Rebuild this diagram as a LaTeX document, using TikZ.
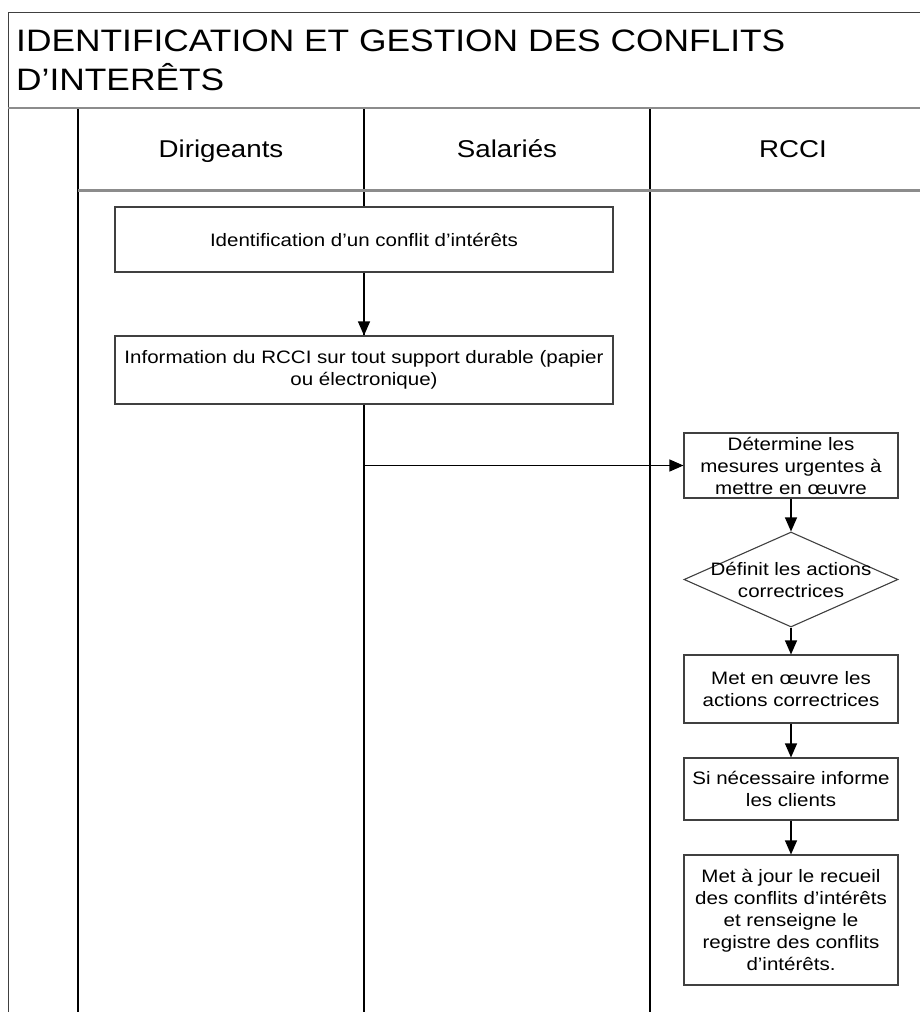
\documentclass[tikz,border=0pt]{standalone}
\usepackage{fontspec}
\setmainfont{Liberation Sans}[FakeStretch=1.14]
\usetikzlibrary{arrows.meta,shapes.geometric}
\newcommand\boxfont{\fontsize{18}{22}\selectfont}
\begin{document}
\begin{tikzpicture}[x=1pt,y=-1pt,
  lane/.style={line width=1.4pt, black},
  band/.style={line width=2.5pt, black!45},
  frame/.style={line width=1pt, black!75},
  box/.style={draw=black!75, line width=1.1pt, fill=white, align=center, inner sep=0pt, font=\boxfont},
  arr/.style={line width=1.1pt, -{Triangle[length=14pt,width=12pt]}},
  head/.style={font=\fontsize{24.3}{28}\selectfont, anchor=base}]
\useasboundingbox (0,0) rectangle (920,1012);
% frame
\draw[frame] (8,1012) -- (8,12) -- (920,12);
% lanes
\draw[lane] (78,108) -- (78,1012);
\draw[lane] (364,108) -- (364,1012);
\draw[lane] (650,108) -- (650,1012);
\draw[band] (8,108) -- (920,108);
\draw[band] (78,190.5) -- (920,190.5);
% title
\node[anchor=north west, inner sep=0pt, align=left, font=\fontsize{31}{39}\selectfont] (title) at (16,29.5)
  {IDENTIFICATION ET GESTION DES CONFLITS\\D’INTERÊTS};
% headers
\node[head] (h1) at (221,157) {Dirigeants};
\node[head] (h2) at (507,157) {Salariés};
\node[head] (h3) at (793,157) {RCCI};
% boxes
\node[box, minimum width=498pt, minimum height=65pt] (b1) at (364,239.5) {Identification d’un conflit d’intérêts};
\node[box, minimum width=498pt, minimum height=68pt] (b2) at (364,370) {Information du RCCI sur tout support durable (papier\\ou électronique)};
\node[box, minimum width=214pt, minimum height=65pt] (b3) at (791,465.5) {Détermine les\\mesures urgentes à\\mettre en œuvre};
\node[draw=black!75, line width=1.1pt, fill=white, diamond, inner sep=0pt, minimum width=214pt, minimum height=95pt,
  label={[font=\boxfont, align=center]center:Définit les actions\\correctrices}] (d) at (791,579.5) {};
\node[box, minimum width=214pt, minimum height=68pt] (b4) at (791,689) {Met en œuvre les\\actions correctrices};
\node[box, minimum width=214pt, minimum height=62pt] (b5) at (791,789) {Si nécessaire informe\\les clients};
\node[box, minimum width=214pt, minimum height=130pt] (b6) at (791,920) {Met à jour le recueil\\des conflits d’intérêts\\et renseigne le\\registre des conflits\\d’intérêts.};
% arrows
\draw[arr] (b1) -- (b2);
\draw[arr] (b2.south |- b3.west) -- (b3.west);
\draw[arr] (b3) -- (d);
\draw[arr] (d) -- (b4);
\draw[arr] (b4) -- (b5);
\draw[arr] (b5) -- (b6);
\end{tikzpicture}
\end{document}
